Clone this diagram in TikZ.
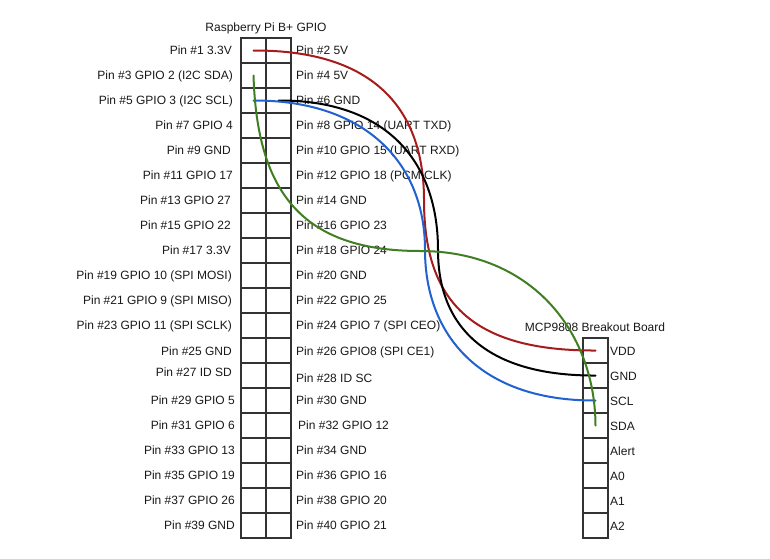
\documentclass[tikz,border=0pt]{standalone}
\usepackage{fontspec}
\setmainfont{Liberation Sans}
\definecolor{gridc}{HTML}{333333}
\definecolor{wred}{HTML}{A61C1C}
\definecolor{wgreen}{HTML}{3F7F22}
\definecolor{wblue}{HTML}{1F62D0}
\tikzset{
  cellbox/.style={draw=gridc,line width=2pt,minimum width=25pt,minimum height=25pt,inner sep=0pt,outer sep=0pt},
  lab/.style={font=\fontsize{12pt}{14pt}\selectfont,inner sep=0pt,text height=9pt,text depth=0.6pt,text=black!90},
  leftlab/.style={lab,anchor=east},
  rightlab/.style={lab,anchor=west},
  wire/.style={line width=2pt,line cap=round}
}
\begin{document}
\begin{tikzpicture}[x=1pt,y=-1pt]
\useasboundingbox (0,0) rectangle (770,558);
\fill[white] (0,0) rectangle (770,558);
\foreach \i in {1,...,20}{
  \node[cellbox] (L\i) at (253.5,{25.5+25*\i}) {};
  \node[cellbox] (R\i) at (278.5,{25.5+25*\i}) {};
}
\foreach \i in {1,...,8}{
  \node[cellbox] (B\i) at (595.5,{325.5+25*\i}) {};
}
\node[lab] (title) at (266,27) {Raspberry Pi B+ GPIO};
\node[lab] (boardtitle) at (595,327) {MCP9808 Breakout Board};
\foreach \n/\t/\x/\y in {
 1/Pin \#1 3.3V/232/50, 3/Pin \#3 GPIO 2 (I2C SDA)/233/75, 5/Pin \#5 GPIO 3 (I2C SCL)/233/100,
 7/Pin \#7 GPIO 4/233/125, 9/Pin \#9 GND/231/150, 11/Pin \#11 GPIO 17/233/175,
 13/Pin \#13 GPIO 27/231/200, 15/Pin \#15 GPIO 22/231/225, 17/Pin \#17 3.3V/231/250,
 19/Pin \#19 GPIO 10 (SPI MOSI)/232/275, 21/Pin \#21 GPIO 9 (SPI MISO)/232/300,
 23/Pin \#23 GPIO 11 (SPI SCLK)/232/325, 25/Pin \#25 GND/232/351, 27/Pin \#27 ID SD/232/372,
 29/Pin \#29 GPIO 5/235/400, 31/Pin \#31 GPIO 6/235/425, 33/Pin \#33 GPIO 13/235/450,
 35/Pin \#35 GPIO 19/235/475, 37/Pin \#37 GPIO 26/235/500, 39/Pin \#39 GND/235/525}{
  \node[leftlab] (p\n) at (\x,\y) {\t};
}
\foreach \n/\t/\x/\y in {
 2/Pin \#2 5V/296/50, 4/Pin \#4 5V/296/75, 6/Pin \#6 GND/296/100, 8/Pin \#8 GPIO 14 (UART TXD)/296/125,
 10/Pin \#10 GPIO 15 (UART RXD)/296/150, 12/Pin \#12 GPIO 18 (PCM CLK)/296/175, 14/Pin \#14 GND/296/200,
 16/Pin \#16 GPIO 23/296/225, 18/Pin \#18 GPIO 24/296/250, 20/Pin \#20 GND/296/275, 22/Pin \#22 GPIO 25/296/300,
 24/Pin \#24 GPIO 7 (SPI CEO)/296/325, 26/Pin \#26 GPIO8 (SPI CE1)/296/351, 28/Pin \#28 ID SC/296/378,
 30/Pin \#30 GND/296/400, 32/Pin \#32 GPIO 12/298/425, 34/Pin \#34 GND/296/450, 36/Pin \#36 GPIO 16/296/475,
 38/Pin \#38 GPIO 20/296/500, 40/Pin \#40 GPIO 21/296/525}{
  \node[rightlab] (p\n) at (\x,\y) {\t};
}
\foreach \i/\t in {1/VDD,2/GND,3/SCL,4/SDA,5/Alert,6/A0,7/A1,8/A2}{
  \node[rightlab] (s\i) at (610,{326+25*\i}) {\t};
}
\coordinate (redmid) at (424,200);
\coordinate (blackmid) at (438,250);
\coordinate (bluemid) at (425,250);
\coordinate (greenmid) at (420,251);
\draw[wire,wred] (L1.center) .. controls (375,50) and (424,110) .. (redmid)
  .. controls (424,300) and (470,351) .. (B1.center);
\draw[wire,black] (R3.center) .. controls (385,100) and (438,160) .. (blackmid)
  .. controls (438,330) and (490,376) .. (B2.center);
\draw[wire,wblue] (L3.center) .. controls (362,100) and (425,160) .. (bluemid)
  .. controls (425,335) and (480,401) .. (B3.center);
\draw[wire,wgreen] (L2.center) .. controls (257,190) and (300,251) .. (greenmid)
  .. controls (530,251) and (595,330) .. (B4.center);
\end{tikzpicture}
\end{document}
